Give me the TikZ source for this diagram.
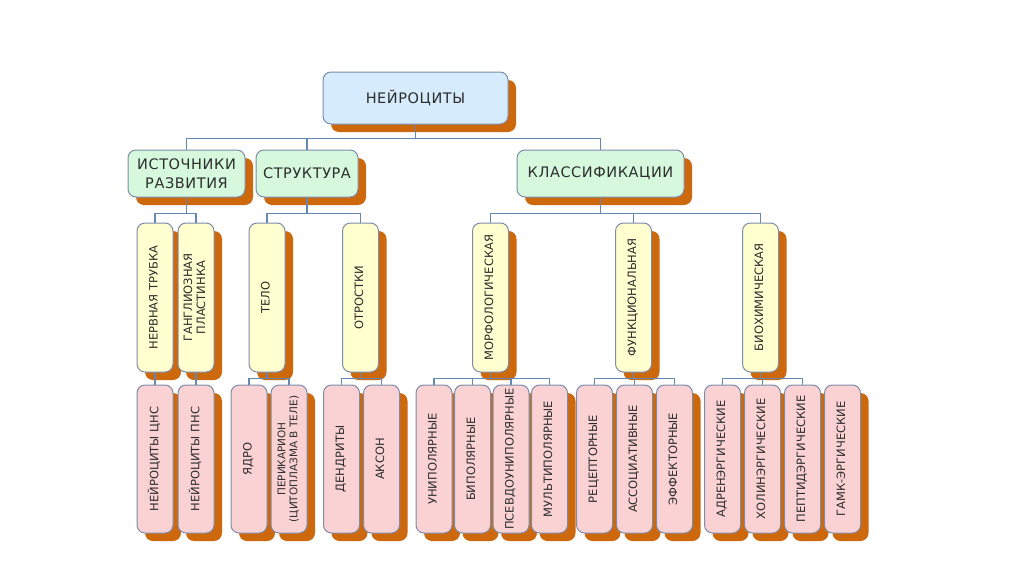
\documentclass[tikz,border=0pt]{standalone}
\usepackage{fontspec}
\setmainfont{DejaVu Sans}
\usetikzlibrary{positioning, shadows}

\definecolor{shadoworange}{RGB}{205,104,12}
\definecolor{boxline}{RGB}{125,140,170}
\definecolor{linkblue}{RGB}{100,135,180}
\definecolor{rootfill}{RGB}{214,236,252}
\definecolor{secfill}{RGB}{214,248,220}
\definecolor{subfill}{RGB}{255,255,208}
\definecolor{leaffill}{RGB}{250,210,212}
\definecolor{txt}{RGB}{45,45,45}

\newcommand{\vtext}[1]{\rotatebox{90}{\begin{tabular}{@{}c@{}}#1\end{tabular}}}

\begin{document}
\begin{tikzpicture}[
  x=1pt, y=-1pt,
  box/.style  = {draw=boxline, line width=1pt, rounded corners=8pt, text=txt, inner sep=1pt, align=center,
                 drop shadow={shadow xshift=8pt, shadow yshift=-8pt, opacity=1, fill=shadoworange}},
  root/.style = {box, fill=rootfill, minimum width=185pt, minimum height=52pt,
                 font=\fontsize{14.5}{17}\selectfont\addfontfeatures{LetterSpace=4}},
  sec/.style  = {box, fill=secfill, minimum height=47pt,
                 font=\fontsize{14.5}{19}\selectfont\addfontfeatures{LetterSpace=4}},
  sub/.style  = {box, fill=subfill, minimum width=36pt, minimum height=149pt, font=\fontsize{11.5}{13}\selectfont},
  leaf/.style = {box, fill=leaffill, minimum width=36pt, minimum height=148pt, font=\fontsize{11.5}{13}\selectfont},
  link/.style = {draw=linkblue, line width=1.2pt},
]
  \fill[white] (0,0) rectangle (1024,574);
  \useasboundingbox (0,0) rectangle (1024,574);

  % top levels
  \node[root] (root) at (415.5,98) {НЕЙРОЦИТЫ};
  \node[sec, minimum width=117pt] (src) at (186.5,173.5) {ИСТОЧНИКИ\\РАЗВИТИЯ};
  \node[sec, minimum width=102pt] (str) at (307,173.5)   {СТРУКТУРА};
  \node[sec, minimum width=167pt] (cls) at (600.5,173.5) {КЛАССИФИКАЦИИ};

  % yellow
  \node[sub]                  (nt)   at (155,297.5)   {\vtext{НЕРВНАЯ ТРУБКА}};
  \node[sub, right=4pt of nt] (gp)                    {\vtext{ГАНГЛИОЗНАЯ\\ПЛАСТИНКА}};
  \node[sub]                  (telo) at (267,297.5)   {\vtext{ТЕЛО}};
  \node[sub]                  (otr)  at (360.5,297.5) {\vtext{ОТРОСТКИ}};
  \node[sub]                  (morf) at (490.5,297.5) {\vtext{МОРФОЛОГИЧЕСКАЯ}};
  \node[sub]                  (func) at (633.5,297.5) {\vtext{ФУНКЦИОНАЛЬНАЯ}};
  \node[sub]                  (bio)  at (760.5,297.5) {\vtext{БИОХИМИЧЕСКАЯ}};

  % pink
  \node[leaf]                     (cns)    at (155,459)   {\vtext{НЕЙРОЦИТЫ ЦНС}};
  \node[leaf, right=4pt of cns]   (pns)                   {\vtext{НЕЙРОЦИТЫ ПНС}};
  \node[leaf]                     (yadro)  at (249,459)   {\vtext{ЯДРО}};
  \node[leaf, right=3pt of yadro, font=\fontsize{10.5}{12}\selectfont]
                                  (peri)                  {\vtext{ПЕРИКАРИОН\\(ЦИТОПЛАЗМА В ТЕЛЕ)}};
  \node[leaf]                     (dend)   at (341.5,459) {\vtext{ДЕНДРИТЫ}};
  \node[leaf, right=3pt of dend]  (akson)                 {\vtext{АКСОН}};
  \node[leaf]                     (uni)    at (434,459)   {\vtext{УНИПОЛЯРНЫЕ}};
  \node[leaf, right=1.5pt of uni] (bi)                    {\vtext{БИПОЛЯРНЫЕ}};
  \node[leaf, right=1.5pt of bi]  (pseudo)                {\vtext{ПСЕВДОУНИПОЛЯРНЫЕ}};
  \node[leaf, right=1.5pt of pseudo] (multi)              {\vtext{МУЛЬТИПОЛЯРНЫЕ}};
  \node[leaf]                     (rec)    at (594.5,459) {\vtext{РЕЦЕПТОРНЫЕ}};
  \node[leaf, right=3pt of rec]   (assoc)                 {\vtext{АССОЦИАТИВНЫЕ}};
  \node[leaf, right=3pt of assoc] (eff)                   {\vtext{ЭФФЕКТОРНЫЕ}};
  \node[leaf]                     (adr)    at (722.5,459) {\vtext{АДРЕНЭРГИЧЕСКИЕ}};
  \node[leaf, right=3pt of adr]   (hol)                   {\vtext{ХОЛИНЭРГИЧЕСКИЕ}};
  \node[leaf, right=3pt of hol]   (pep)                   {\vtext{ПЕПТИДЭРГИЧЕСКИЕ}};
  \node[leaf, right=3pt of pep]   (gamk)                  {\vtext{ГАМК-ЭРГИЧЕСКИЕ}};

  % connectors
  \draw[link] (root.south) -- ++(0,14) coordinate (rj);
  \foreach \c in {src,str,cls} \draw[link] (rj) -| (\c.north);

  \foreach \p/\kids in {src/{nt,gp}, str/{telo,otr}, cls/{morf,func,bio}} {
    \draw[link] (\p.south) -- ++(0,16) coordinate (j);
    \foreach \c in \kids \draw[link] (j) -| (\c.north);
  }

  \foreach \p/\kids in {nt/{cns}, gp/{pns}, telo/{yadro,peri}, otr/{dend,akson},
                        morf/{uni,bi,pseudo,multi}, func/{rec,assoc,eff}, bio/{adr,hol,pep}} {
    \draw[link] (\p.south) -- ++(0,6) coordinate (j);
    \foreach \c in \kids \draw[link] (j) -| (\c.north);
  }
\end{tikzpicture}
\end{document}
